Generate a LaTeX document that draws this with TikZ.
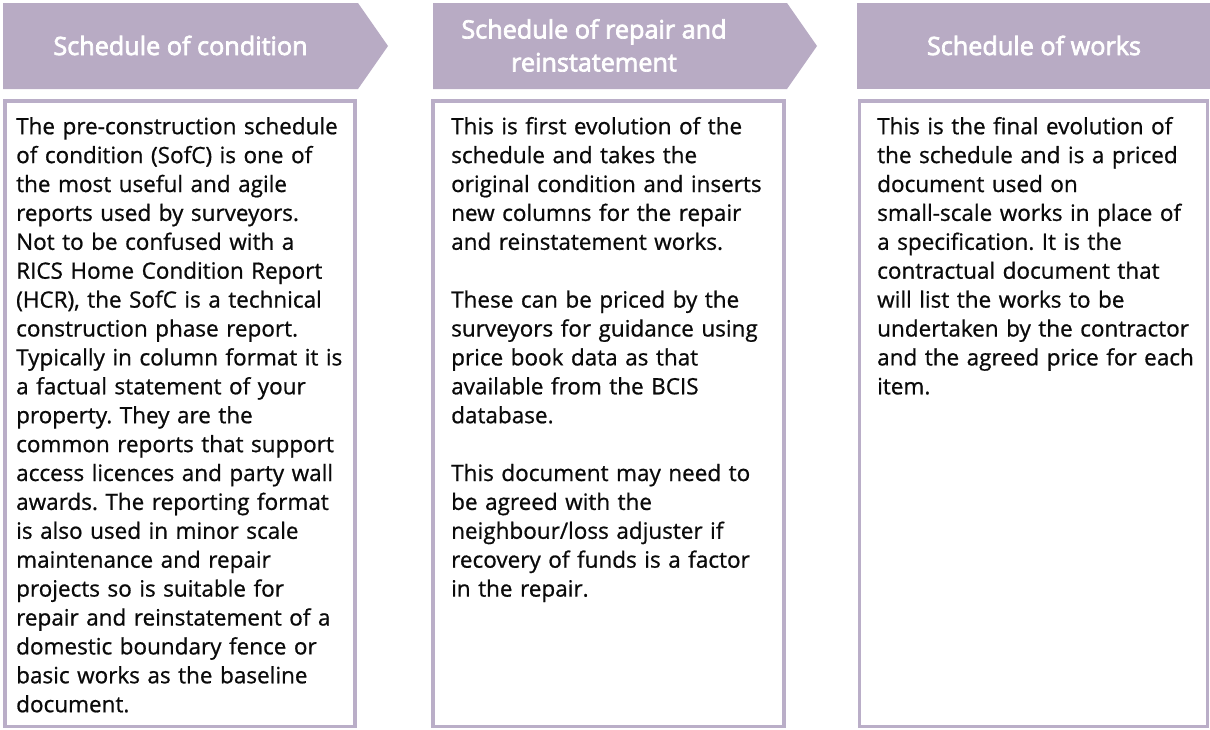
\documentclass[tikz,border=0pt]{standalone}
\usepackage{fontspec}
\setmainfont{Open Sans}[FakeBold=0.8]
\newfontfamily\hdfont{Open Sans}[FakeBold=2.8]
\definecolor{mauve}{RGB}{184,171,196}
\definecolor{mauveline}{RGB}{186,174,200}
\definecolor{bodytext}{RGB}{10,10,10}
\begin{document}
\frenchspacing
\begin{tikzpicture}[x=1pt,y=-1pt,
  hdr/.style={fill=mauve, draw=none},
  card/.style={draw=mauveline, line width=3.8pt, fill=white},
  hdtext/.style={text=white, font=\hdfont\fontsize{25.2}{33}\selectfont, align=center, inner sep=0pt},
  body/.style={anchor=north west, inner sep=0pt, text width=360pt, align=left,
    font=\fontsize{22.5}{28.9}\selectfont, text=bodytext}
]
\useasboundingbox (0,0) rectangle (1210,729);
\fill[white] (0,0) rectangle (1210,729);

% header chevrons
\path[hdr] (3,3) -- (358,3) -- (388,46) -- (358,89) -- (3,89) -- cycle;
\path[hdr] (433,3) -- (787,3) -- (817,46) -- (787,89) -- (433,89) -- cycle;
\path[hdr] (857,3) -- (1210,3) -- (1210,89) -- (857,89) -- cycle;

\node[hdtext, anchor=base] (h1) at (180.5,55) {Schedule of condition};
\node[hdtext, anchor=north] (h2) at (594,18.2) {\rule{0pt}{20pt}Schedule of repair and\\reinstatement};
\node[hdtext, anchor=base] (h3) at (1034,55) {Schedule of works};

% boxes
\draw[card] (5,101) rectangle (354.7,726.5);
\draw[card] (433,101) rectangle (784,726.5);
\draw[card] (859.5,101) rectangle (1207.5,726.5);

\node[body] (b1) at (16,113) {\rule{0pt}{21pt}The pre-construction schedule\\
of condition (SofC) is one of\\
the most useful and agile\\
reports used by surveyors.\\
Not to be confused with a\\
RICS Home Condition Report\\
(HCR), the SofC is a technical\\
construction phase report.\\
Typically in column format it is\\
a factual statement of your\\
property. They are the\\
common reports that support\\
access licences and party wall\\
awards. The reporting format\\
is also used in minor scale\\
maintenance and repair\\
projects so is suitable for\\
repair and reinstatement of a\\
domestic boundary fence or\\
basic works as the baseline\\
document.};

\node[body] (b2) at (451,113) {\rule{0pt}{21pt}This is first evolution of the\\
schedule and takes the\\
original condition and inserts\\
new columns for the repair\\
and reinstatement works.\\[28.9pt]
These can be priced by the\\
surveyors for guidance using\\
price book data as that\\
available from the BCIS\\
database.\\[28.9pt]
This document may need to\\
be agreed with the\\
neighbour/loss adjuster if\\
recovery of funds is a factor\\
in the repair.};

\node[body] (b3) at (877,113) {\rule{0pt}{21pt}This is the final evolution of\\
the schedule and is a priced\\
document used on\\
small-scale works in place of\\
a specification. It is the\\
contractual document that\\
will list the works to be\\
undertaken by the contractor\\
and the agreed price for each\\
item.};
\end{tikzpicture}
\end{document}
